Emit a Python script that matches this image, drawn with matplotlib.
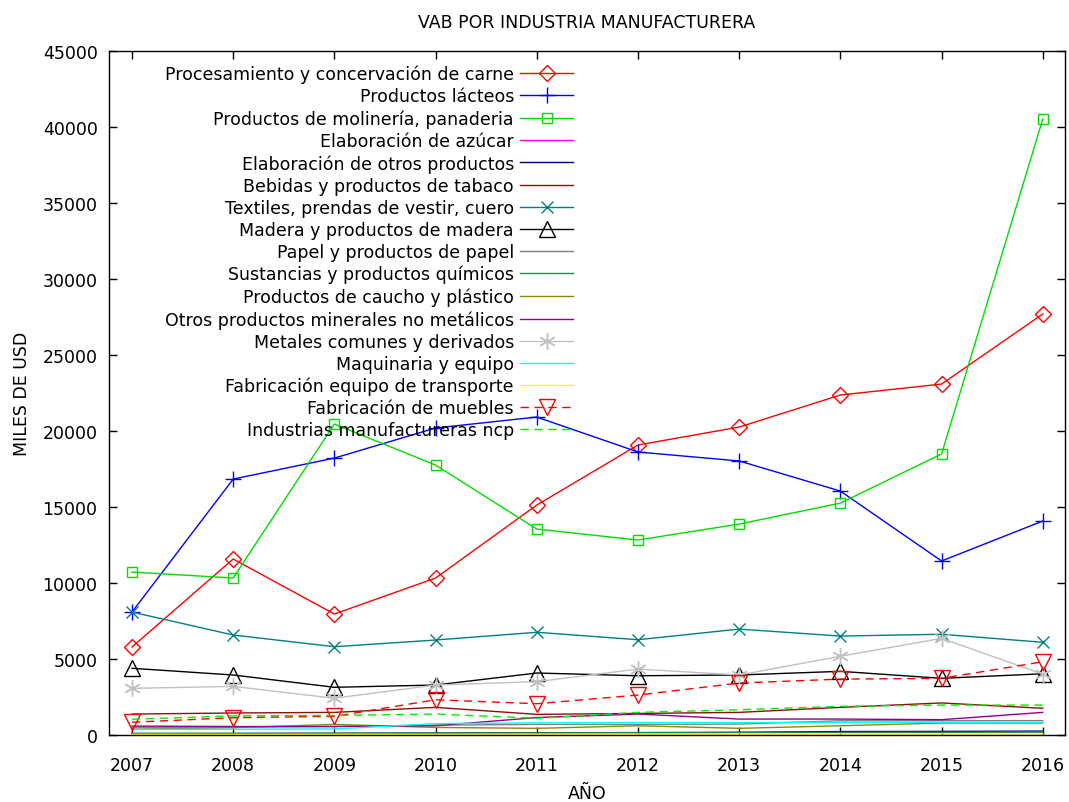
import matplotlib
matplotlib.use("Agg")
import matplotlib.pyplot as plt

years = [2007, 2008, 2009, 2010, 2011, 2012, 2013, 2014, 2015, 2016]

carne = [5790, 11580, 7960, 10330, 15130, 19080, 20260, 22370, 23090, 27700]
lacteos = [8090, 16840, 18220, 20200, 20920, 18620, 18030, 16050, 11450, 14080]
molineria = [10720, 10330, 20460, 17760, 13550, 12830, 13880, 15260, 18490, 40530]
azucar = [20, 20, 20, 20, 20, 20, 20, 20, 20, 20]
otros = [100, 100, 110, 130, 150, 160, 180, 230, 240, 260]
bebidas = [1380, 1450, 1490, 1820, 1360, 1420, 1490, 1820, 2110, 1760]
textiles = [8090, 6580, 5810, 6250, 6760, 6270, 6970, 6510, 6630, 6100]
madera = [4390, 3950, 3140, 3290, 4080, 3900, 3950, 4190, 3730, 4030]
papel = [500, 520, 560, 650, 700, 700, 720, 940, 940, 950]
quimicos = [100, 110, 120, 130, 140, 150, 160, 170, 180, 190]
caucho = [390, 480, 700, 500, 440, 610, 440, 610, 790, 790]
minerales = [590, 560, 560, 610, 1150, 1380, 1050, 1050, 1010, 1490]
metales = [3070, 3200, 2420, 3290, 3510, 4340, 3950, 5180, 6360, 4010]
maquinaria = [370, 380, 400, 750, 800, 820, 820, 840, 840, 840]
transporte = [40, 40, 50, 50, 60, 60, 60, 70, 70, 70]
muebles = [840, 1140, 1230, 2320, 2060, 2630, 3420, 3680, 3730, 4820]
ncp = [1040, 1260, 1290, 1380, 1100, 1490, 1660, 1890, 1970, 1970]

labels = [
    "Procesamiento y concervación de carne",
    "Productos lácteos",
    "Productos de molinería, panaderia",
    "Elaboración de azúcar",
    "Elaboración de otros productos",
    "Bebidas y productos de tabaco",
    "Textiles, prendas de vestir, cuero",
    "Madera y productos de madera",
    "Papel y productos de papel",
    "Sustancias y productos químicos",
    "Productos de caucho y plástico",
    "Otros productos minerales no metálicos",
    "Metales comunes y derivados",
    "Maquinaria y equipo",
    "Fabricación equipo de transporte",
    "Fabricación de muebles",
    "Industrias manufactureras ncp",
]
series = [carne, lacteos, molineria, azucar, otros, bebidas, textiles, madera,
          papel, quimicos, caucho, minerales, metales, maquinaria, transporte,
          muebles, ncp]

styles = [
    dict(color="#ff0000", marker="D", ms=8, ls="-"),
    dict(color="#0000ff", marker="+", ms=12, ls="-"),
    dict(color="#00dd00", marker="s", ms=7, ls="-"),
    dict(color="#ff00ff", marker=None, ls="-"),
    dict(color="#000080", marker=None, ls="-"),
    dict(color="#8b1010", marker=None, ls="-"),
    dict(color="#008080", marker="x", ms=9, ls="-"),
    dict(color="#000000", marker="^", ms=11, ls="-"),
    dict(color="#808080", marker=None, ls="-"),
    dict(color="#1f8a4c", marker=None, ls="-"),
    dict(color="#8b8b00", marker=None, ls="-"),
    dict(color="#900090", marker=None, ls="-"),
    dict(color="#c0c0c0", marker=(6, 2, 0), ms=12, ls="-"),
    dict(color="#00ffff", marker=None, ls="-"),
    dict(color="#ffff00", marker=None, ls="-"),
    dict(color="#ff0000", marker="v", ms=11, ls=(0, (6, 4))),
    dict(color="#00ee00", marker=None, ls=(0, (6, 4))),
]

FS = 12.5
plt.rcParams['font.family'] = ['DejaVu Sans']
fig = plt.figure(figsize=(10.69, 8.03), dpi=100)
ax = fig.add_axes([0.1017, 0.0834, 0.8946, 0.8518])

for lab, vals, st in zip(labels, series, styles):
    kw = dict(color=st["color"], ls=st["ls"], lw=1.0, label=lab)
    if st["marker"] is not None:
        kw.update(marker=st["marker"], ms=st["ms"], mfc="none",
                  mec=st["color"], mew=1.0)
    ax.plot(years, vals, **kw)

ax.set_xlim(2006.77, 2016.22)
ax.set_ylim(0, 45000)
ax.set_xticks(years)
ax.set_xticklabels([str(y) for y in years])
ax.set_yticks(range(0, 45001, 5000))
ax.tick_params(direction="in", length=6, width=1, top=True, right=True,
               labelsize=FS, colors="black")
ax.tick_params(axis="x", pad=15)
ax.tick_params(axis="y", pad=8)
for sp in ax.spines.values():
    sp.set_linewidth(1.0)
    sp.set_color("black")

ax.set_title("VAB POR INDUSTRIA MANUFACTURERA", fontsize=FS, pad=17)
ax.set_xlabel("AÑO", fontsize=FS, labelpad=7)
ax.set_ylabel("MILES DE USD", fontsize=FS, labelpad=8)

leg = ax.legend(loc="upper right", bbox_to_anchor=(0.4855, 0.980),
                frameon=False, markerfirst=False, fontsize=FS,
                handlelength=3.05, handletextpad=0.35, labelspacing=0.235,
                borderaxespad=0.0, borderpad=0.0)

fig.savefig("out.png", dpi=100)
